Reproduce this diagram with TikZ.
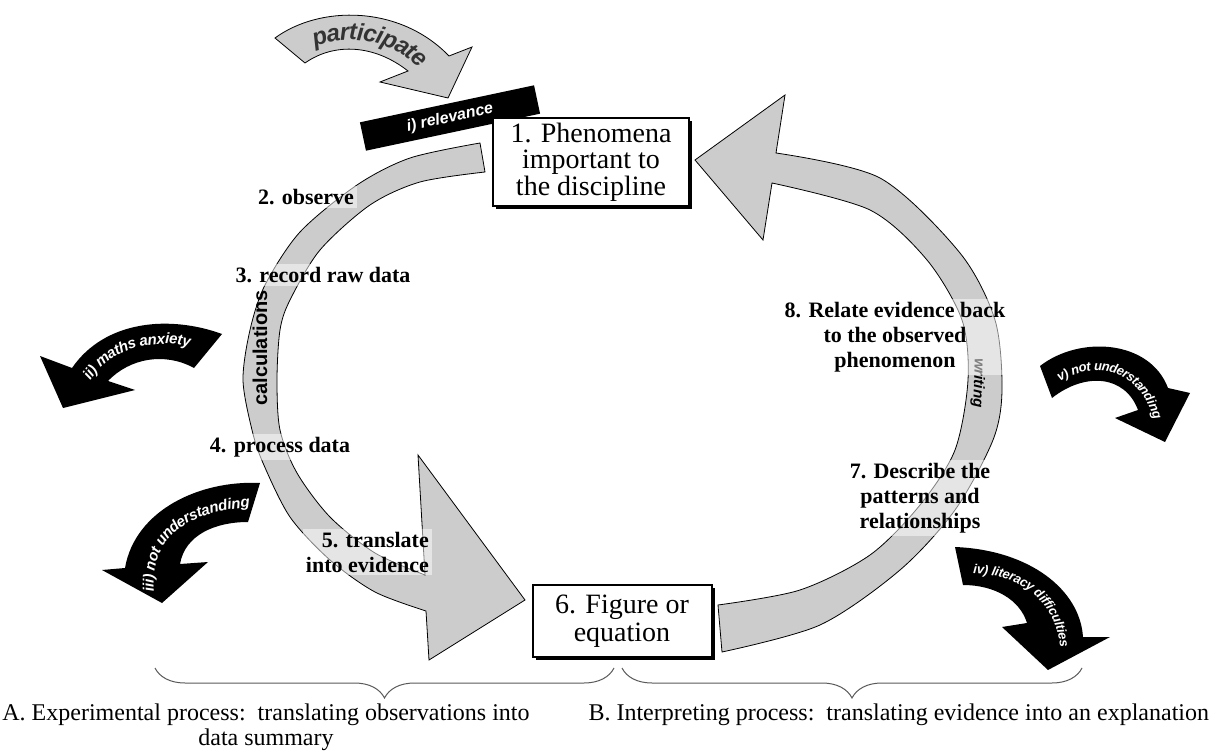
\documentclass[tikz,border=0pt]{standalone}
\usepackage{fontspec}
\setmainfont{Liberation Serif}
\setsansfont{Liberation Sans}
\usetikzlibrary{decorations.text}
\usetikzlibrary{decorations.pathreplacing}
\usetikzlibrary{shadows}
\newcommand{\partfont}{\fontsize{24}{24}\selectfont\sffamily\bfseries\itshape}
\newcommand{\hurdlefont}{\fontsize{15}{15}\selectfont\sffamily\bfseries\itshape}
\newcommand{\hurdlesmall}{\fontsize{13}{13}\selectfont\sffamily\bfseries\itshape}
\tikzset{phase/.style={draw, line width=2pt, fill=white, align=center, inner sep=0pt, drop shadow={shadow xshift=3pt, shadow yshift=-3pt, opacity=1, fill=black}}}
\tikzset{stage/.style={font=\fontsize{22}{25}\selectfont\bfseries, fill=white, fill opacity=.5, text opacity=1, inner sep=3pt, align=center}}
\tikzset{bigarc/.style={fill=black!20, draw=black, line width=.8pt}}
\tikzset{hurdle/.style={fill=black}}
\tikzset{hurdletext/.style={decorate, decoration={text along path, text color=white, text align=center, raise=-5pt}}}
\tikzset{groupbrace/.style={decorate, decoration={brace, mirror, amplitude=30pt}, draw=black!65, line width=1pt}}
\tikzset{caption/.style={font=\fontsize{24}{25}\selectfont, align=center}}

\begin{document}
\begin{tikzpicture}[x=1pt,y=-1pt]
  \useasboundingbox (0,0) rectangle (1213,751);
  % experimental side, ends in a big head at the figure
  \draw[bigarc] plot[smooth] coordinates {(480,143) (410,158) (357,185) (300,232) (265,285) (250,330) (243,380) (252,430) (263,463) (290,517) (330,560) (375,592) (426,611)}
    -- (429,660) -- (525,600) -- (418,455) -- (425,575)
    -- plot[smooth] coordinates {(425,575) (375,553) (330,517) (297,473) (280,430) (277,380) (280,330) (290,300) (320,250) (370,205) (420,182) (485,172)} -- cycle;
  % interpreting side, back to the phenomena
  \draw[bigarc] plot[smooth] coordinates {(722,652) (820,625) (900,570) (955,510) (993,440) (1002,390) (995,320) (960,253) (880,178) (776,153)}
    -- (785,95) -- (695,160) -- (763,240) -- (772,183)
    -- plot[smooth] coordinates {(772,183) (870,210) (927,260) (962,320) (968,380) (955,450) (920,505) (870,555) (800,590) (718,605)} -- cycle;
  \node[font=\fontsize{20}{20}\selectfont\sffamily\bfseries, rotate=90] (calc) at (260,348) {calculations};
  \node[font=\fontsize{15}{15}\selectfont\sffamily\bfseries\itshape, rotate=-92] (writ) at (978,383) {writing};

  % participate
  \draw[bigarc] (275,38) .. controls (320,5) and (400,5) .. (449,56) -- (472,47) -- (448,98) -- (380,82) -- (408,71) .. controls (375,45) and (335,42) .. (305,63) -- cycle;
  \path[decorate, decoration={text along path, text color=black!80, text align=center, raise=-8pt, text={|\partfont|participate}}]
    (285,56) .. controls (325,20) and (405,20) .. (445,88);

  % barriers
  \fill[hurdle] (222,334) .. controls (170,315) and (105,320) .. (72,368) -- (40,356) -- (63,408) -- (135,390) -- (108,381) .. controls (130,358) and (165,352) .. (194,368) -- cycle;
  \path[hurdletext, decoration={text={|\hurdlefont|ii) maths anxiety}}] (76,402) .. controls (88,350) and (150,322) .. (216,350);
  \fill[hurdle] (260,483) .. controls (200,480) and (135,510) .. (125,568) -- (102,570) -- (162,603) -- (208,562) -- (180,564) .. controls (185,535) and (215,522) .. (248,522) -- cycle;
  \path[hurdletext, decoration={text={|\hurdlefont|iii) not understanding}}] (150,602) .. controls (140,535) and (185,503) .. (260,502);
  \fill[hurdle] (1040,366) .. controls (1080,335) and (1150,340) .. (1168,388) -- (1190,393) -- (1165,442) -- (1115,418) -- (1138,410) .. controls (1125,375) and (1085,372) .. (1052,398) -- cycle;
  \path[hurdletext, decoration={text={|\hurdlesmall|v) not understanding}}] (1046,386) .. controls (1085,352) and (1148,356) .. (1162,432);
  \fill[hurdle] (955,547) .. controls (1030,550) and (1080,590) .. (1083,637) -- (1110,637) -- (1048,670) -- (1002,627) -- (1027,623) .. controls (1020,600) and (995,585) .. (963,585) -- cycle;
  \path[hurdletext, decoration={text={|\hurdlesmall|iv) literacy difficulties}}] (960,568) .. controls (1024,566) and (1066,600) .. (1066,660);
  \node[hurdle, rotate=12, minimum width=178, minimum height=29, text=white, font=\fontsize{16}{16}\selectfont\sffamily\bfseries\itshape] (relev) at (450,118) {i) relevance};

  % steps
  \foreach \x/\y/\lab/\txt in {
    306/197/s2/{2. observe},
    323/275/s3/{3. record raw data},
    280/447/s4/{4. process data}%
  } {
    \node[stage] (\lab) at (\x, \y) {\txt};
  }
  \node[stage, align=right, anchor=east] (s5) at (432,552) {5. translate\\into evidence};
  \node[stage] (s7) at (920,498) {7. Describe the\\patterns and\\relationships};
  \node[stage] (s8) at (895,337) {8. Relate evidence back\\to the observed\\phenomenon};

  \node[phase, minimum width=196, minimum height=88, font=\fontsize{28}{26.5}\selectfont] (s1) at (591,162) {1. Phenomena\\important to\\the discipline};
  \node[phase, minimum width=179, minimum height=72, font=\fontsize{28}{28}\selectfont] (s6) at (622,621) {6. Figure or\\equation};

  % the two processes
  \coordinate (a0) at (155,668);
  \coordinate (a1) at (614,668);
  \coordinate (b0) at (622,668);
  \coordinate (b1) at (1082,668);
  \draw[groupbrace] (a0) -- (a1);
  \draw[groupbrace] (b0) -- (b1);
  \node[caption] (capA) at (266,727) {A. Experimental process:\ \ translating observations into\\data summary};
  \node[caption, anchor=west] (capB) at (585,715) {B. Interpreting process:\ \ translating evidence into an explanation};
\end{tikzpicture}
\end{document}
